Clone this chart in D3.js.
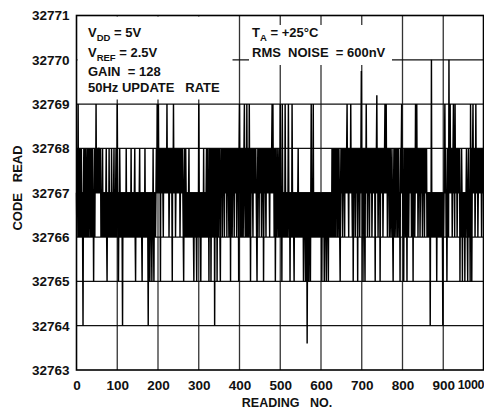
<!DOCTYPE html>
<html><head><meta charset="utf-8">
<script src="https://cdn.jsdelivr.net/npm/d3@7"></script>
<style>
html,body{margin:0;padding:0;background:#fff;}
svg{display:block;font-family:"Liberation Sans",Arial,sans-serif;}
</style></head>
<body>
<svg id="chart" width="484" height="409"></svg>
<script>
// ---- data ----
const codeBase = 32763;
// one digit per reading: code = codeBase + digit ; 20 rows x 50 readings
const codeRows = [
"4354635435"+"3453431453"+"4535434534"+"5345435345"+"3424535464",
"5454554545"+"3434534343"+"4345324343"+"5343435434"+"3453434534",
"6432435434"+"3431434343"+"4353434343"+"4343534343"+"4345324343",
"4343453434"+"3243434353"+"4343431434"+"2434324353"+"2434345464",
"5645452545"+"4543545454"+"5464545345"+"4545425464"+"5453454545",
"4545345454"+"5432454354"+"3434345343"+"4343434324"+"3434324343",
"6434324343"+"4353434345"+"3453425435"+"2453453451"+"4534524535",
"4532454535"+"4543545453"+"5454354525"+"4534545354"+"5453454525",
"6453453453"+"4564354364"+"3543645245"+"4543545454"+"5432454535",
"4545345452"+"4545435454"+"5454354545"+"6464534524"+"5434543453",
"6434264343"+"4364343434"+"6434243436"+"4343243434"+"3434534343",
"4343434243"+"4324341343"+"2434246343"+"4634343434"+"3434343434",
"3424343424"+"3432434324"+"3434343543"+"5435435453"+"4534543245",
"4543545435"+"4545645435"+"4546454352"+"4545345454"+"2545435456",
"4542545325"+"4645345453"+"5454534545"+"4542545645"+"3454524545",
"4534545645"+"6453454534"+"5434543245"+"3454354534"+"5434254564",
"5342545345"+"4254534545"+"4534542545"+"3464564534"+"5453454543",
"5454354545"+"3434343414"+"3734343434"+"3434243434"+"3434343431",
"4345645342"+"4543745645"+"4534564536"+"4545345454"+"5243454243",
"4342434543"+"2454342645"+"2456454534"+"6454534545"+"4545345454"
];
// readings whose extreme is not on an integer code line
const spikeOverrides = [[566, 32763.6], [699, 32769.75], [737, 32769.2]];

const xTicks = [0,100,200,300,400,500,600,700,800,900,1000];
const yTicks = [32763,32764,32765,32766,32767,32768,32769,32770,32771];

const leftNotes = [
  {main:"V", sub:"DD", rest:" = 5V"},
  {main:"V", sub:"REF", rest:" = 2.5V"},
  {main:"GAIN  = 128", sub:"", rest:""},
  {main:"50Hz UPDATE   RATE", sub:"", rest:""}
];
const rightNotes = [
  {main:"T", sub:"A", rest:" = +25\u00B0C"},
  {main:"RMS  NOISE  = 600nV", sub:"", rest:""}
];
const xTitle = "READING   NO.";
const yTitle = "CODE   READ";

// ---- build table ----
const digits = codeRows.join("");
const readings = Array.from(digits, (c, i) => ({i, v: codeBase + (+c)}));
spikeOverrides.forEach(([i, v]) => { readings[i].v = v; });

// ---- drawing ----
const svg = d3.select("#chart");
const L = 76.5, R = 483.5, T = 15.5, B = 370;
const x = d3.scaleLinear().domain([0, 1000]).range([L, R + 0.5]);
const y = d3.scaleLinear().domain([32763, 32771]).range([B, T]);

const g = svg.append("g");
// grid
g.selectAll("line.vg").data(xTicks.slice(1, -1)).join("line")
  .attr("x1", d => x(d)).attr("x2", d => x(d)).attr("y1", T).attr("y2", B)
  .attr("stroke", "#333").attr("stroke-width", 1.3);
g.selectAll("line.hg").data(yTicks.slice(1, -1)).join("line")
  .attr("x1", L).attr("x2", R).attr("y1", d => y(d)).attr("y2", d => y(d))
  .attr("stroke", "#111").attr("stroke-width", 1.3);

// white boxes behind notes
g.append("rect").attr("x", L + 1).attr("y", T + 1).attr("width", 155).attr("height", 83).attr("fill", "#fff");
g.append("rect").attr("x", 249).attr("y", 25).attr("width", 143).attr("height", 40).attr("fill", "#fff");

// trace
g.append("path").datum(readings)
  .attr("d", d3.line().x(d => x(d.i)).y(d => y(d.v)))
  .attr("fill", "none").attr("stroke", "#000").attr("stroke-width", 1.45)
  .attr("stroke-linejoin", "miter").attr("stroke-miterlimit", 2);

// frame
g.append("rect").attr("x", L).attr("y", T).attr("width", R - L).attr("height", B - T)
  .attr("fill", "none").attr("stroke", "#000").attr("stroke-width", 1.6);

// axes (labels only)
const ax = svg.append("g").attr("transform", `translate(0,${B})`)
  .call(d3.axisBottom(x).tickValues(xTicks).tickFormat(d3.format("d")).tickSize(0).tickPadding(10));
const ay = svg.append("g").attr("transform", `translate(${L},0)`)
  .call(d3.axisLeft(y).tickValues(yTicks).tickFormat(d3.format("d")).tickSize(0).tickPadding(7));
[ax, ay].forEach(a => {
  a.select(".domain").remove();
  a.selectAll("text").attr("font-family", "Liberation Sans, Arial, sans-serif")
    .attr("font-size", 13.5).attr("font-weight", "bold").attr("fill", "#111");
});
// last x label kept inside the picture, ending at the right edge
ax.selectAll(".tick").filter(d => d === 1000).select("text")
  .attr("text-anchor", "end").attr("font-size", 12.5).attr("letter-spacing", -0.4)
  .attr("transform", `translate(${483.5 - x(1000)},0)`);

// titles
svg.append("text").attr("x", 287).attr("y", 407).attr("text-anchor", "middle")
  .attr("font-size", 12.5).attr("font-weight", "bold").attr("fill", "#111")
  .style("white-space", "pre").text(xTitle);
svg.append("text").attr("transform", "translate(22,188) rotate(-90)").attr("text-anchor", "middle")
  .attr("font-size", 13).attr("font-weight", "bold").attr("fill", "#111")
  .style("white-space", "pre").text(yTitle);

// notes
function note(n, xx, yy) {
  const t = svg.append("text").attr("x", xx).attr("y", yy)
    .attr("font-size", 13).attr("font-weight", "bold").attr("fill", "#111")
    .style("white-space", "pre");
  t.append("tspan").text(n.main);
  if (n.sub) {
    t.append("tspan").attr("dy", 4).attr("font-size", 9.5).text(n.sub);
    t.append("tspan").attr("dy", -4).text(n.rest);
  }
}
const leftY = [37, 57, 76, 92];
leftNotes.forEach((n, k) => note(n, 88, leftY[k]));
const rightY = [37, 57];
rightNotes.forEach((n, k) => note(n, 252, rightY[k]));
</script>
</body></html>
